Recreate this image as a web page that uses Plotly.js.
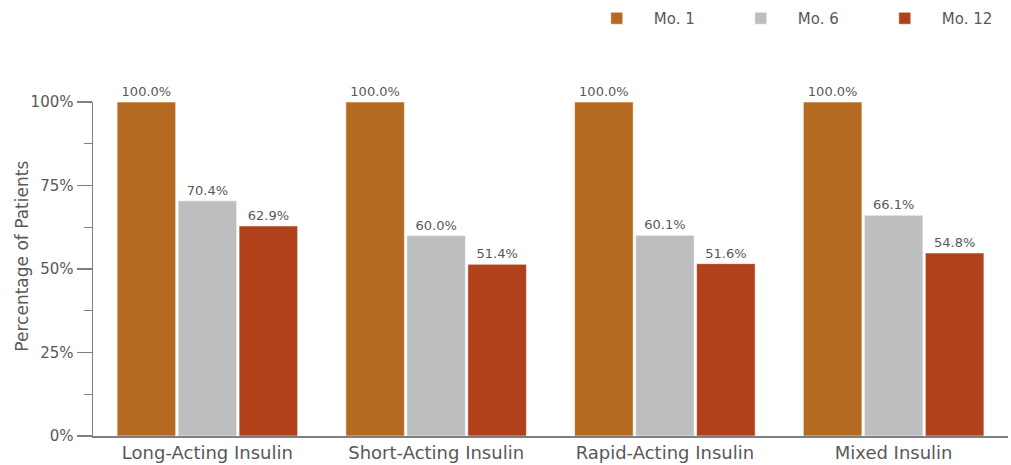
<!DOCTYPE html>
<html>
<head>
<meta charset="utf-8">
<script src="https://cdn.plot.ly/plotly-3.0.1.min.js"></script>
<style>
  html, body { margin: 0; padding: 0; background: #ffffff; }
  #chart { width: 1011px; height: 465px; }
</style>
</head>
<body>
<div id="chart"></div>
<script>
// Insulin types along the x axis
const categories = ['Long-Acting Insulin', 'Short-Acting Insulin', 'Rapid-Acting Insulin', 'Mixed Insulin'];

// Share of patients still on therapy at each month (%)
const month1 = [100.0, 100.0, 100.0, 100.0];
const month6 = [70.4, 60.0, 60.1, 66.1];
const month12 = [62.9, 51.4, 51.6, 54.8];

const seriesNames = ['Mo. 1', 'Mo. 6', 'Mo. 12'];
const seriesColors = ['#b56a21', '#bdbec0', '#b0411a'];

const yTickValues = [0, 25, 50, 75, 100];
const yTickLabels = ['0%', '25%', '50%', '75%', '100%'];
const yTitle = 'Percentage of Patients';

const textColor = '#595959';
const fontFamily = 'DejaVu Sans, sans-serif';

const seriesValues = [month1, month6, month12];

const traces = seriesValues.map((vals, i) => ({
  type: 'bar',
  name: seriesNames[i],
  x: categories,
  y: vals,
  marker: { color: seriesColors[i], line: { color: 'rgba(255,255,255,0.55)', width: 1 } },
  texttemplate: '%{y:.1f}%',
  textposition: 'outside',
  textfont: { family: fontFamily, size: 13, color: textColor },
  constraintext: 'none',
  cliponaxis: false,
  hoverinfo: 'skip'
}));

const layout = {
  width: 1011,
  height: 465,
  margin: { l: 93, r: 3, t: 102, b: 29, pad: 0, autoexpand: false },
  paper_bgcolor: '#ffffff',
  plot_bgcolor: '#ffffff',
  font: { family: fontFamily, color: textColor, size: 15 },
  barmode: 'group',
  bargap: 0.2,
  bargroupgap: 0.04,
  showlegend: true,
  legend: {
    orientation: 'h',
    x: 0.532,
    xanchor: 'left',
    y: 1.25,
    yanchor: 'middle',
    itemwidth: 64,
    entrywidth: 65,
    entrywidthmode: 'pixels',
    font: { family: fontFamily, size: 15, color: textColor },
    traceorder: 'normal'
  },
  xaxis: {
    type: 'category',
    showline: true,
    linecolor: '#7f7f7f',
    linewidth: 1.5,
    ticks: '',
    showgrid: false,
    zeroline: false,
    tickfont: { family: fontFamily, size: 18, color: textColor }
  },
  yaxis: {
    range: [0, 100],
    tickvals: yTickValues,
    ticktext: yTickLabels,
    showline: true,
    linecolor: '#7f7f7f',
    linewidth: 1.5,
    ticks: 'outside',
    ticklen: 15,
    tickwidth: 1.2,
    tickcolor: '#7f7f7f',
    minor: { dtick: 12.5, tick0: 0, ticks: 'outside', ticklen: 8, tickwidth: 1.2, tickcolor: '#7f7f7f', showgrid: false },
    showgrid: false,
    zeroline: false,
    tickfont: { family: fontFamily, size: 15, color: textColor }
  },
  annotations: [{
    text: yTitle,
    xref: 'paper', yref: 'paper',
    x: -0.0776, y: 0.54,
    xanchor: 'center', yanchor: 'middle',
    textangle: -90,
    showarrow: false,
    font: { family: fontFamily, size: 17, color: textColor }
  }]
};

Plotly.newPlot('chart', traces, layout, { displayModeBar: false, staticPlot: true });
</script>
</body>
</html>
